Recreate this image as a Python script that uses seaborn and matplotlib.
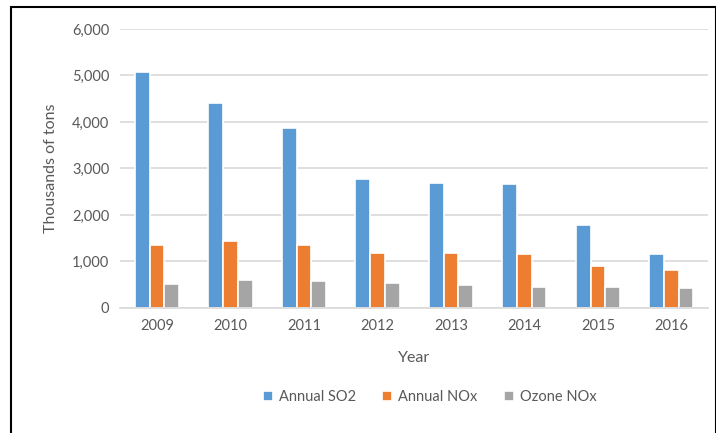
import pandas as pd
import numpy as np
import matplotlib
matplotlib.use('Agg')
import matplotlib.pyplot as plt
import seaborn as sb
from matplotlib.patches import Rectangle
from matplotlib.ticker import FuncFormatter

# values (thousands of tons)
years = ['2009', '2010', '2011', '2012', '2013', '2014', '2015', '2016']
annual_so2 = [5076, 4400, 3880, 2770, 2690, 2656, 1790, 1160]
annual_nox = [1360, 1440, 1360, 1180, 1180, 1160, 909, 809]
ozone_nox = [515, 610, 573, 530, 494, 458, 458, 437]
series_names = ['Annual SO2', 'Annual NOx', 'Ozone NOx']
colors = ['#5B9BD5', '#ED7D31', '#A5A5A5']

data = pd.DataFrame({
    'Year': years * 3,
    'value': annual_so2 + annual_nox + ozone_nox,
    'series': [s for s in series_names for _ in years],
})

sb.set_style('white')
plt.rcParams['font.family'] = ['Lato', 'DejaVu Sans']
txt = '#595959'

fig = plt.figure(figsize=(7.16, 4.33), dpi=100)
ax = fig.add_axes([0.168, 0.289, 0.821, 0.644])

sb.barplot(data=data, x='Year', y='value', hue='series', palette=colors,
           saturation=1, width=0.6, edgecolor='white', linewidth=1.2, ax=ax, legend=True)

ax.set_ylim(0, 6000)
ax.set_yticks(np.arange(0, 6001, 1000))
ax.yaxis.set_major_formatter(FuncFormatter(lambda v, p: f'{int(v):,}'))
ax.grid(axis='y', color='#D9D9D9', linewidth=1.2)
ax.set_axisbelow(True)
for s in ['top', 'right', 'left']:
    ax.spines[s].set_visible(False)
ax.spines['bottom'].set_color('#D9D9D9')
ax.spines['bottom'].set_linewidth(1.2)
ax.tick_params(axis='both', length=0, labelsize=10.5, labelcolor=txt, pad=8)
ax.set_xlabel('Year', fontsize=11.5, color=txt, labelpad=13)
ax.set_ylabel('Thousands of tons', fontsize=11.5, color=txt, labelpad=10)

handles, labels = ax.get_legend_handles_labels()
ax.get_legend().remove()
fig.legend(handles, labels, loc='center', bbox_to_anchor=(0.6, 0.083), ncol=3,
           frameon=False, fontsize=10.5, labelcolor=txt, handlelength=0.7,
           handleheight=0.7, handletextpad=0.4, columnspacing=1.8)

# border box around the chart
fig.patches.append(Rectangle((0.015, -0.05), 0.985, 1.034, transform=fig.transFigure,
                             fill=False, edgecolor='black', linewidth=1.5))

fig.savefig('out.png', dpi=100)
